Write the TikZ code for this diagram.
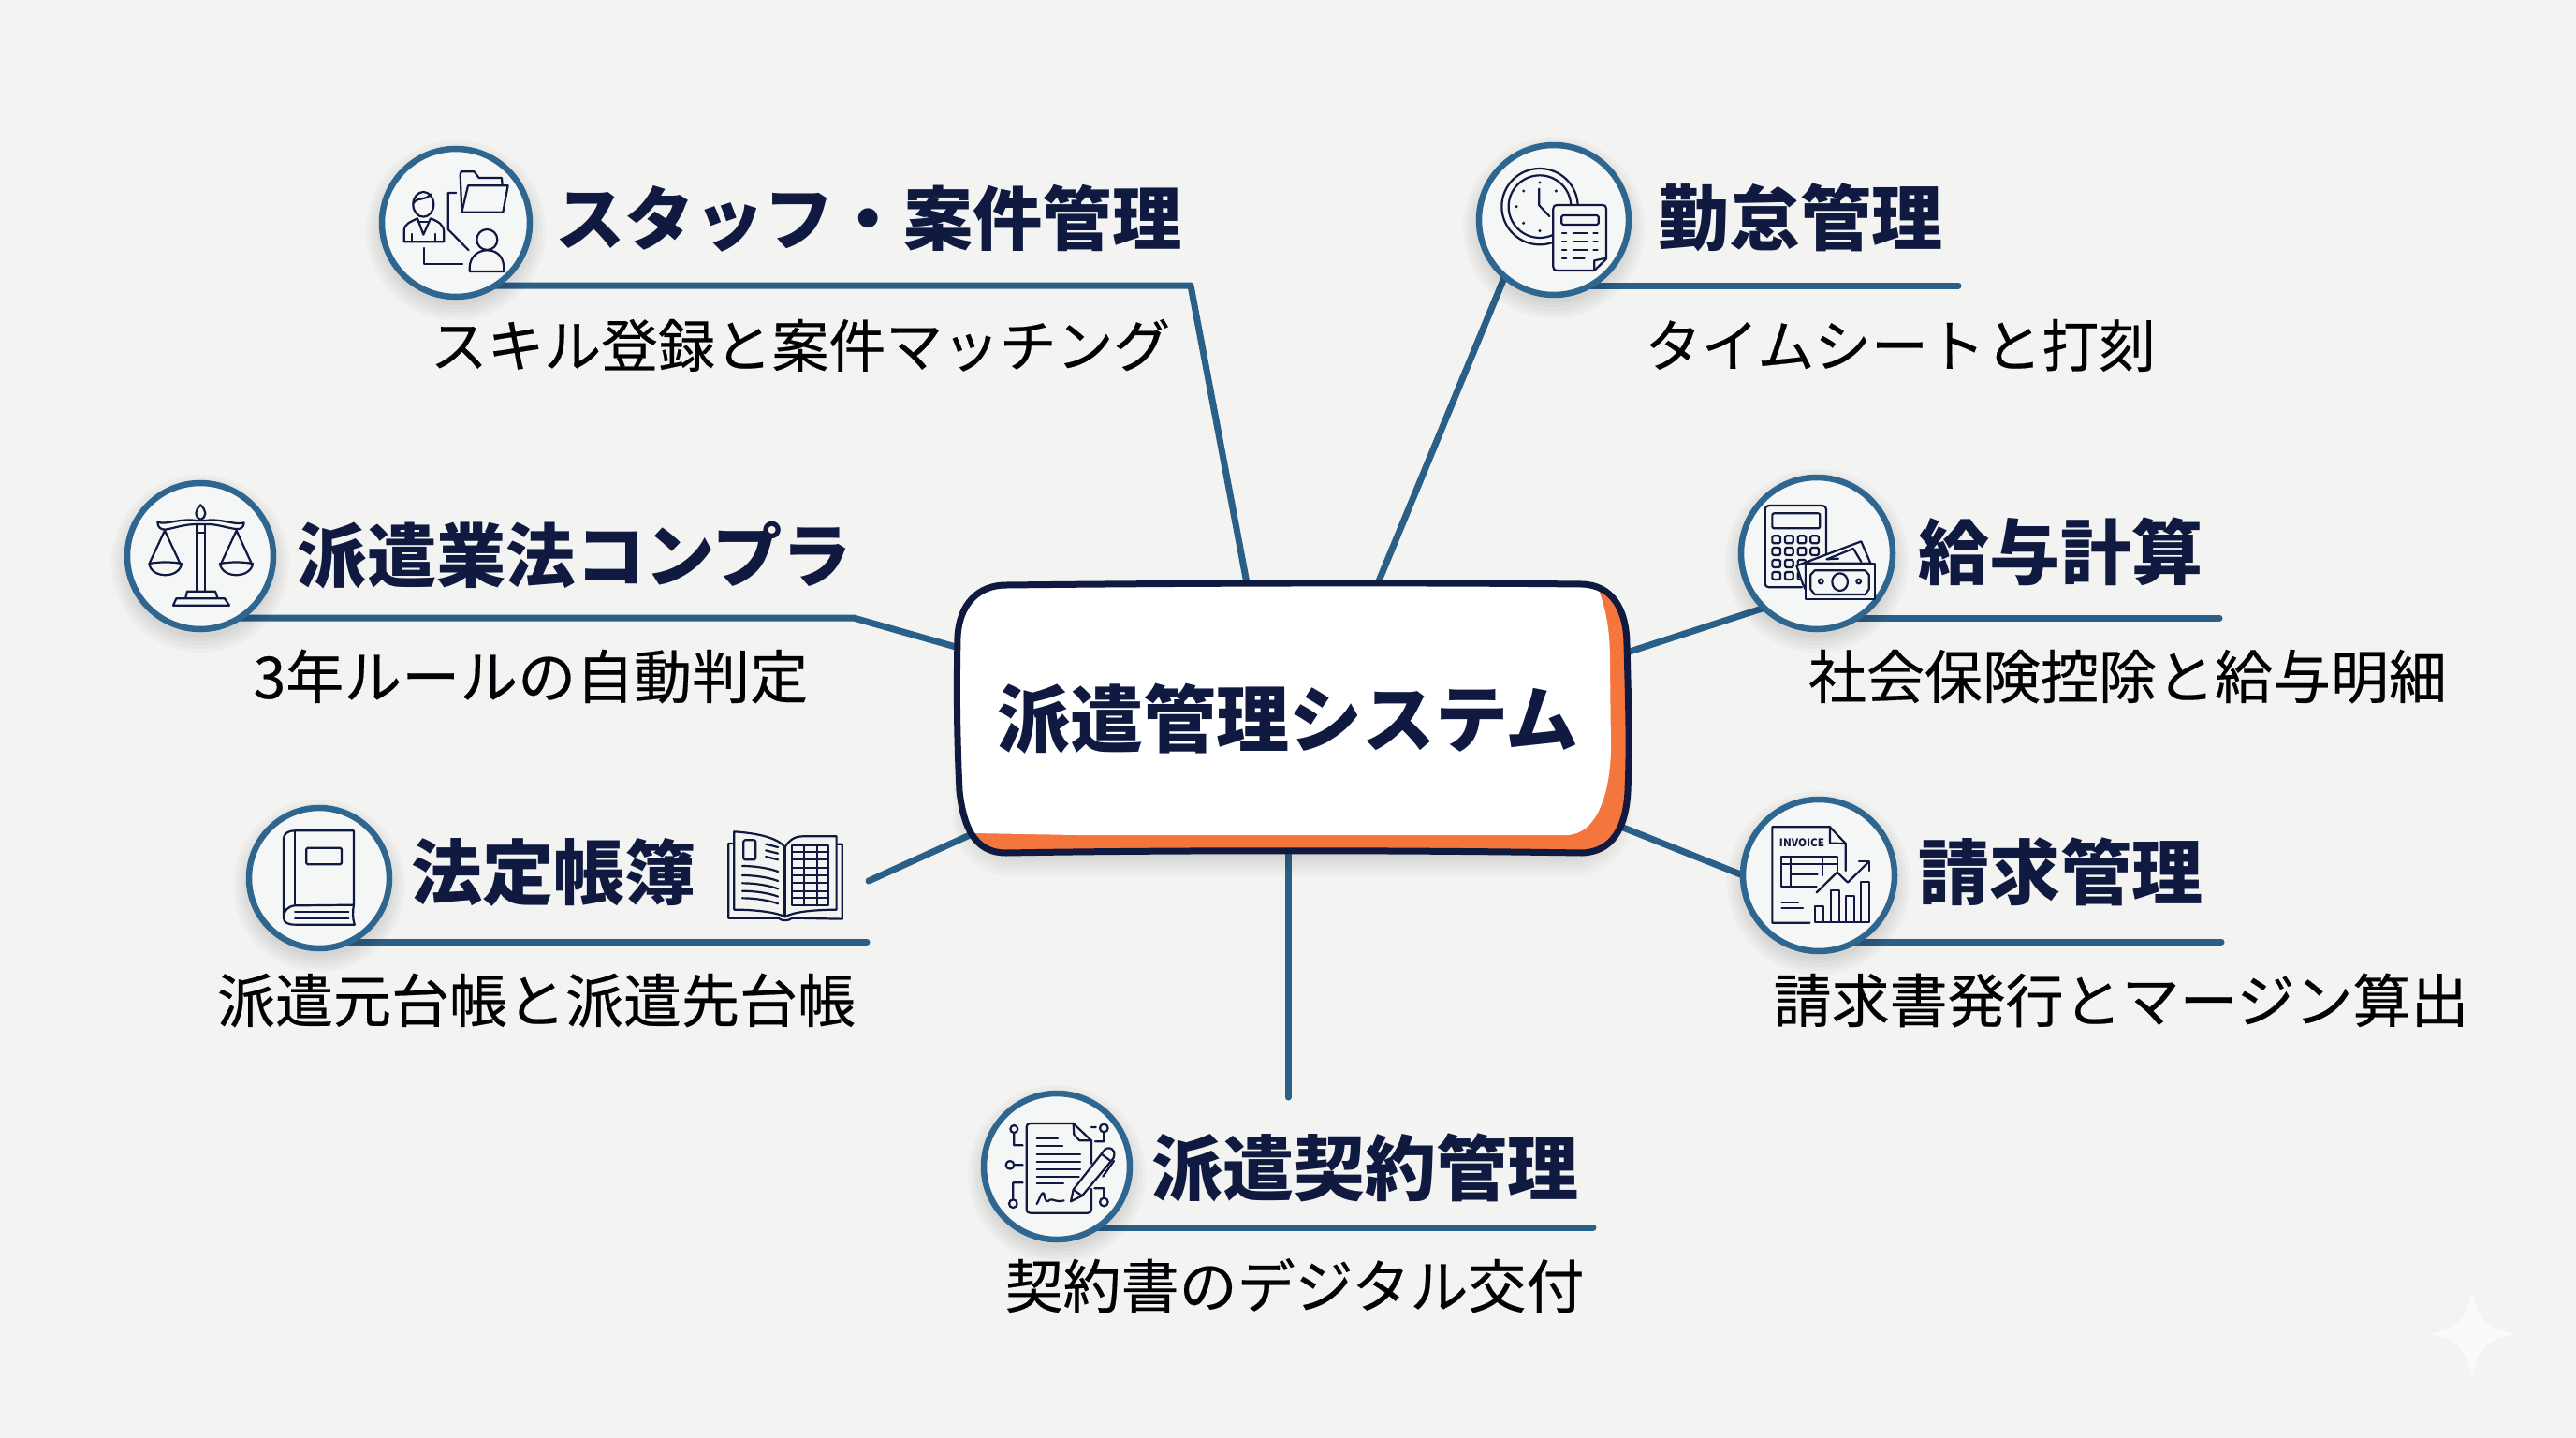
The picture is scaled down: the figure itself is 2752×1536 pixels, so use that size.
\documentclass[tikz,border=0pt]{standalone}
\usepackage{fontspec}
\setmainfont{Noto Sans CJK JP}
\newfontfamily\jpmed{Noto Sans CJK JP}[FakeBold=0.35]
\usetikzlibrary{calc}
\definecolor{bgc}{HTML}{F3F3F1}
\definecolor{ink}{HTML}{10193F}
\definecolor{linec}{HTML}{2A6088}
\definecolor{ringc}{HTML}{2F6690}
\definecolor{orangec}{HTML}{F5763C}
\definecolor{bubc}{HTML}{F5F6F6}
\pgfdeclarelayer{bgl}\pgfdeclarelayer{linel}\pgfdeclarelayer{shadel}
\pgfsetlayers{bgl,linel,shadel,main}
\tikzset{
  ringnode/.style={circle,draw=ringc,line width=6.5pt,fill=bubc,inner sep=0pt,outer sep=0pt},
  head/.style={anchor=base,inner sep=0pt,text=ink,font=\fontsize{76}{82}\selectfont\bfseries},
  heads/.style={anchor=base,inner sep=0pt,text=ink,font=\fontsize{74.3}{82}\selectfont\bfseries},
  sub/.style={anchor=base,inner sep=0pt,text=black!92!ink,font=\jpmed\fontsize{62}{66}\selectfont},
  subs/.style={anchor=base,inner sep=0pt,text=black!92!ink,font=\jpmed\fontsize{60.8}{66}\selectfont},
  conn/.style={draw=linec,line width=7pt,line cap=round,line join=round},
  ic/.style={draw=ink,line width=2.2pt,line cap=round,line join=round},
  icf/.style={ic,fill=bubc},
}
\newcommand\bubble[4]{%
  \node[ringnode,minimum size={2*(#4-3)*1pt}] (#1) at (#2,#3) {};
  \begin{pgfonlayer}{shadel}
  \foreach \d in {-2,2,6,10,14}{\fill[black,opacity=.022] (#2,#3+8) circle ({#4+\d});}
  \end{pgfonlayer}
}
\begin{document}
\begin{tikzpicture}[x=1pt,y=-1pt]
\useasboundingbox (0,0) rectangle (2752,1536);
\begin{pgfonlayer}{bgl}\fill[bgc] (0,0) rectangle (2752,1536);\end{pgfonlayer}
% watermark star
\fill[white,opacity=.6] (2641,1377) .. controls (2646,1410) and (2656,1420) .. (2689,1425) .. controls (2656,1430) and (2646,1440) .. (2641,1473) .. controls (2636,1440) and (2626,1430) .. (2593,1425) .. controls (2626,1420) and (2636,1410) .. (2641,1377) -- cycle;

% bubbles
\bubble{c1}{487}{238}{82}
\bubble{c2}{1660}{235}{83}
\bubble{c3}{214}{594}{81}
\bubble{c4}{1941}{591}{84}
\bubble{c5}{341}{938}{78}
\bubble{c6}{1943}{935}{84}
\bubble{c7}{1129}{1246}{81}

% hub shape
\begin{pgfonlayer}{shadel}
\foreach \d in {0,4,8,12,16,20}{
\fill[black,opacity=.018,rounded corners=60pt] (1030-\d*.6,650) rectangle (1731+\d*.6,916+\d);}
\end{pgfonlayer}
\def\hubpath{(1075,625) .. controls (1250,623) and (1500,622) .. (1690,624)
 .. controls (1722,625) and (1738,650) .. (1738,690)
 .. controls (1740,760) and (1741,800) .. (1739,845)
 .. controls (1737,885) and (1722,910) .. (1690,911)
 .. controls (1500,908) and (1250,908) .. (1075,911)
 .. controls (1045,911) and (1030,890) .. (1025,845)
 .. controls (1022,780) and (1022,730) .. (1023,680)
 .. controls (1025,645) and (1045,625) .. (1075,625) -- cycle}
\fill[orangec] \hubpath;
\begin{scope}
\clip \hubpath;
\fill[white] (1000,600) -- (1695,600) -- (1709,633) .. controls (1718,660) and (1720,680) .. (1720,710) -- (1721,800) .. controls (1720,850) and (1705,892) .. (1673,892) -- (1150,892) -- (1040,890) -- (1000,880) -- cycle;
\end{scope}
\draw[ink,line width=7pt] \hubpath;
\node[anchor=base,inner sep=0pt,text=ink,font=\fontsize{78}{84}\selectfont\bfseries] (hub) at (1376,797) {派遣管理システム};

% connector coordinates
\coordinate (k1) at (1272,305); \coordinate (h1) at (1332,623);
\coordinate (k2) at (2092,305); \coordinate (h2) at (1472,623);
\coordinate (k3) at (912,660);  \coordinate (h3) at (1021,691);
\coordinate (k4) at (2371,660); \coordinate (h4) at (1741,696);
\coordinate (k5) at (926,1006); \coordinate (h5) at (1036,892); \coordinate (f5) at (928,941);
\coordinate (k6) at (2373,1006);\coordinate (h6) at (1734,884);
\coordinate (k7) at (1702,1311);\coordinate (h7) at (1376,911); \coordinate (f7) at (1376,1172);
\begin{pgfonlayer}{linel}
\draw[conn] (c1 |- k1) -- (k1) -- (h1);
\draw[conn] (c2 |- k2) -- (k2);
\draw[conn] (c2.229) -- (h2);
\draw[conn] (c3 |- k3) -- (k3) -- (h3);
\draw[conn] (c4 |- k4) -- (k4);
\draw[conn] (c4.226) -- (h4);
\draw[conn] (c5 |- k5) -- (k5);
\draw[conn] (f5) -- (h5);
\draw[conn] (c6 |- k6) -- (k6);
\draw[conn] (c6.180) -- (h6);
\draw[conn] (c7 |- k7) -- (k7);
\draw[conn] (h7) -- (f7);
\end{pgfonlayer}

% texts
\node[heads] (t1) at (928,261) {スタッフ・案件管理};
\node[subs]  (s1) at (855,392) {スキル登録と案件マッチング};
\node[head] (t2) at (1923,261) {勤怠管理};
\node[subs]  (s2) at (2030,392) {タイムシートと打刻};
\node[heads] (t3) at (614,621) {派遣業法コンプラ};
\node[sub]  (s3) at (567,746) {3年ルールの自動判定};
\node[head] (t4) at (2201,618) {給与計算};
\node[sub]  (s4) at (2273,746) {社会保険控除と給与明細};
\node[head] (t5) at (591,960) {法定帳簿};
\node[sub]  (s5) at (573,1092) {派遣元台帳と派遣先台帳};
\node[head] (t6) at (2201,960) {請求管理};
\node[sub]  (s6) at (2266,1092) {請求書発行とマージン算出};
\node[head] (t7) at (1458,1276) {派遣契約管理};
\node[sub]  (s7) at (1383,1397) {契約書のデジタル交付};

% icon 1
\begin{scope}[shift={(380,130)},x=.3333pt,y=-.3333pt]
\draw[ic] (217,265) ellipse [x radius=33,y radius=40];
\draw[ic] (185,262) .. controls (195,240) and (225,255) .. (240,232);
\draw[ic] (155,385) -- (155,350) .. controls (155,325) and (180,320) .. (198,310) -- (217,362) -- (240,310) .. controls (265,320) and (283,330) .. (283,355) -- (283,385) -- cycle;
\draw[ic] (200,322) -- (232,322);
\draw[ic] (180,360) -- (180,385) (255,360) -- (255,385);
\draw[ic] (340,290) -- (335,170) -- (338,160) -- (380,160) -- (395,180) -- (468,180) -- (470,203);
\draw[ic] (340,290) -- (472,290) -- (488,205) -- (360,205) -- cycle;
\draw[ic] (322,228) -- (296,228) -- (296,345) -- (362,412);
\draw[ic] (220,405) -- (220,457) -- (342,457);
\draw[ic] (421,378) circle (33);
\draw[ic] (365,480) -- (365,470) .. controls (365,430) and (395,412) .. (421,412) .. controls (450,412) and (475,430) .. (475,470) -- (475,480) -- cycle;
\end{scope}

% icon 2
\begin{scope}[shift={(1550,130)},x=.3333pt,y=-.3333pt]
\draw[ic] (285,272) circle (122);
\draw[ic] (285,272) circle (100);
\foreach \p in {(285,195),(233,222),(337,222),(210,272),(233,325),(285,350)}{\fill[ink] \p circle (5);}
\draw[ic] (283,215) -- (283,268) -- (316,303);
\draw[icf] (340,267) -- (486,267) .. controls (494,267) and (498,271) .. (498,279) -- (498,440) -- (460,477) -- (340,477) .. controls (332,477) and (328,473) .. (328,465) -- (328,279) .. controls (328,271) and (332,267) .. (340,267) -- cycle;
\draw[ic] (498,437) -- (460,445) -- (460,477);
\draw[ic,rounded corners=1.5pt] (355,300) rectangle (473,330);
\foreach \y in {358,384,410}{\draw[ic] (357,\y) -- (370,\y) (392,\y) -- (437,\y) (457,\y) -- (470,\y);}
\draw[ic] (357,437) -- (370,437) (392,437) -- (428,437);
\end{scope}

% icon 3
\begin{scope}[shift={(120,500)},x=.3333pt,y=-.3333pt]
\draw[ic] (283,118) .. controls (292,128) and (298,136) .. (298,145) .. controls (298,155) and (292,162) .. (283,165) .. controls (274,162) and (268,155) .. (268,145) .. controls (268,136) and (274,128) .. (283,118) -- cycle;
\draw[ic] (145,172) .. controls (170,185) and (210,160) .. (270,168) -- (298,168) .. controls (350,160) and (395,185) .. (422,175) .. controls (422,190) and (410,198) .. (395,195) .. controls (360,190) and (330,178) .. (298,180) -- (270,180) .. controls (230,180) and (200,192) .. (170,197) .. controls (155,197) and (145,190) .. (145,172) -- cycle;
\draw[ic] (270,180) -- (270,395) (298,180) -- (298,395) (270,208) -- (298,208);
\draw[ic] (235,415) -- (240,395) -- (330,395) -- (337,415);
\draw[ic] (205,418) -- (360,418) -- (375,440) -- (195,440) -- cycle;
\draw[ic] (120,303) -- (168,200) -- (216,303);
\draw[ic] (118,306) .. controls (150,300) and (190,300) .. (222,306) .. controls (215,355) and (125,355) .. (118,306) -- cycle;
\draw[ic] (350,303) -- (398,200) -- (445,303);
\draw[ic] (345,306) .. controls (380,300) and (415,300) .. (450,306) .. controls (443,355) and (352,355) .. (345,306) -- cycle;
\end{scope}

% icon 4
\begin{scope}[shift={(1840,500)},x=.3333pt,y=-.3333pt]
\draw[ic] (255,382) -- (150,382) .. controls (142,382) and (137,377) .. (137,370) -- (137,132) .. controls (137,125) and (142,120) .. (150,120) -- (320,120) .. controls (328,120) and (333,125) .. (333,132) -- (333,275);
\draw[ic,rounded corners=2pt] (160,145) rectangle (313,193);
\foreach \x in {173,214,255,296}{\foreach \y in {229,267,306,345}{\draw[ic,rounded corners=1.5pt] (\x-13,\y-12) rectangle (\x+13,\y+12);}}
\draw[icf] (238,313) -- (445,235) -- (475,305) -- (267,305) -- (267,390) -- (258,372) -- cycle;
\draw[ic] (335,292) -- (420,258) -- (445,300);
\draw[ic] (335,292) -- (372,290);
\draw[icf] (267,305) rectangle (488,421);
\draw[ic] (296,328) -- (458,328) -- (470,342) -- (470,388) -- (458,405) -- (296,405) -- (283,388) -- (283,342) -- cycle;
\draw[ic] (377,365) ellipse [x radius=25,y radius=28];
\draw[ic] (316,363) circle (7) (437,363) circle (7);
\end{scope}

% icon 5
\begin{scope}[shift={(250,840)},x=.4337pt,y=-.3333pt]
\draw[ic] (295,380) -- (295,142) -- (150,142) .. controls (132,142) and (122,152) .. (122,170) -- (122,420) .. controls (122,436) and (132,443) .. (150,443) -- (297,443) .. controls (292,425) and (292,400) .. (295,380) -- (150,382) .. controls (132,384) and (122,400) .. (122,420);
\draw[ic] (150,145) -- (150,380);
\draw[ic] (150,402) -- (282,402) (150,422) -- (282,422);
\draw[ic,rounded corners=1.5pt] (178,197) rectangle (265,250);
% open book
\draw[ic] (1232,183) -- (1218,183) -- (1218,422) -- (1340,422) .. controls (1350,432) and (1365,432) .. (1375,422) -- (1498,425) -- (1498,185) -- (1485,185);
\draw[ic] (1232,145) -- (1232,395) .. controls (1290,395) and (1340,405) .. (1357,418) .. controls (1375,405) and (1410,396) .. (1484,395) -- (1484,160) -- (1400,160) .. controls (1380,160) and (1365,175) .. (1357,195) .. controls (1340,165) and (1290,150) .. (1232,145) -- cycle;
\draw[ic] (1357,195) -- (1357,418);
\draw[ic,rounded corners=1.5pt] (1255,172) rectangle (1285,235);
\foreach \y in {185,205,225}{\draw[ic] (1310,\y) -- (1340,\y+10);}
\foreach \y in {255,285,310,335,358}{\draw[ic] (1252,\y) .. controls (1285,\y) and (1320,\y+8) .. (1340,\y+18);}
\draw[ic] (1375,188) rectangle (1465,382);
\foreach \y in {210,235,260,285,310,335,358}{\draw[ic] (1375,\y) -- (1465,\y);}
\draw[ic] (1405,188) -- (1405,382) (1437,188) -- (1437,382);
\end{scope}

% icon 6
\begin{scope}[shift={(1840,840)},x=.3333pt,y=-.3333pt]
\draw[ic] (280,437) -- (160,437) -- (160,130) -- (345,130) -- (395,183) -- (395,270);
\draw[ic] (345,130) -- (345,182) -- (395,183);
\node[inner sep=0pt,text=ink,font=\fontsize{11.5}{12}\selectfont\bfseries] (inv) at (255,180) {INVOICE};
\draw[ic] (302,320) -- (190,320) -- (190,225) -- (370,225) -- (370,270);
\draw[ic] (190,250) -- (370,250) (218,225) -- (218,318) (218,283) -- (305,283) (322,225) -- (322,285);
\draw[ic] (302,340) -- (368,275) -- (402,308) -- (468,243);
\draw[ic] (438,240) -- (470,240) -- (470,270);
\draw[ic] (298,435) -- (470,435);
\draw[ic] (298,435) rectangle (325,385) (348,435) rectangle (375,332) (395,435) rectangle (422,352) (443,435) rectangle (470,305);
\draw[ic] (190,372) -- (243,372) (190,390) -- (258,390);
\end{scope}

% icon 7
\begin{scope}[shift={(1030,1150)},x=.3333pt,y=-.3333pt]
\draw[ic] (408,360) -- (408,425) .. controls (408,433) and (404,437) .. (396,437) -- (212,437) .. controls (204,437) and (200,433) .. (200,425) -- (200,162) .. controls (200,154) and (204,150) .. (212,150) -- (350,150) -- (408,205) -- (408,278);
\draw[ic] (350,150) -- (352,185) -- (370,205) -- (408,205);
\draw[ic] (233,198) -- (300,198) (233,222) -- (315,222) (233,248) -- (372,248) (233,272) -- (372,272) (233,296) -- (372,296) (233,320) -- (368,320) (233,342) -- (318,342);
\draw[ic] (233,408) .. controls (245,385) and (250,365) .. (256,375) .. controls (260,400) and (265,405) .. (275,395) .. controls (285,390) and (295,405) .. (320,397);
\draw[icf] (342,400) -- (350,362) -- (450,235) .. controls (458,225) and (475,228) .. (480,240) .. controls (483,250) and (480,258) .. (478,262) -- (378,382) -- cycle;
\draw[ic] (350,362) -- (378,382);
\draw[ic] (440,248) -- (472,272);
\draw[ic] (480,270) -- (445,320);
\draw[ic] (160,168) circle (12) (160,180) -- (160,220) -- (188,220);
\draw[ic] (147,283) circle (13) (160,283) -- (188,283);
\draw[ic] (157,407) circle (13) (157,394) -- (157,340) -- (188,340);
\draw[ic] (448,165) circle (13) (448,178) -- (448,208) -- (420,208) (408,162) -- (422,162);
\draw[ic] (448,402) circle (13) (448,389) -- (448,358) -- (418,358);
\end{scope}
\end{tikzpicture}
\end{document}
